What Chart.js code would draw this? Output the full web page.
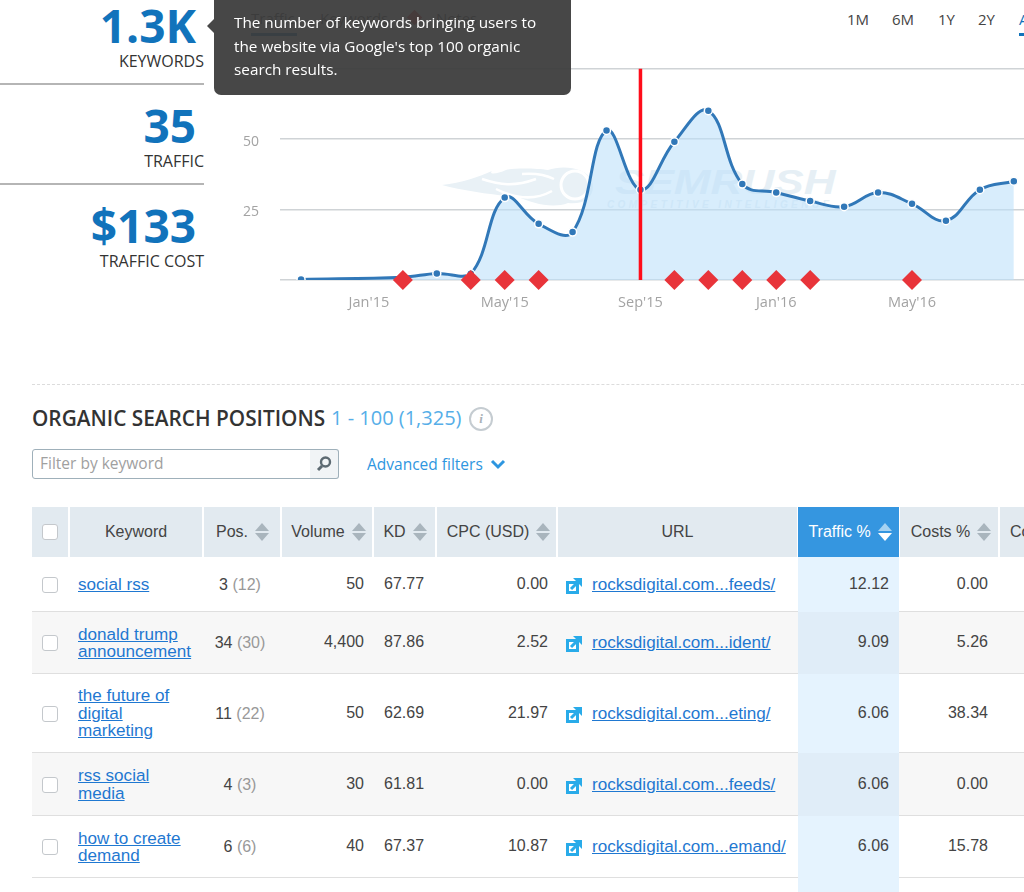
<!DOCTYPE html>
<html>
<head>
<meta charset="utf-8">
<script src="https://cdn.jsdelivr.net/npm/chart.js@4"></script>
<style>
  html, body { margin: 0; padding: 0; background: #fff; }
  body { width: 1024px; height: 892px; overflow: hidden; position: relative; font-family: "Open Sans", sans-serif; color: #333; }
  .abs { position: absolute; white-space: nowrap; }
  .kpi { right: 828px; text-align: right; font-weight: 700; color: #1173bb; font-size: 46px; line-height: 50px; }
  .kpi-label { right: 820px; text-align: right; font-size: 16px; line-height: 18px; color: #333; }
  .hr { left: 0; width: 204px; height: 2px; background: #b5b5b5; }
  .range { top: 9px; font-size: 15px; line-height: 20px; color: #444; }
  #tip { left: 214px; top: -6px; width: 357px; height: 101px; border-radius: 7px; background: rgba(60, 60, 60, .94); z-index: 5; }
  #tip-arrow { left: 207px; top: 19px; border: 7px solid transparent; border-left: 0; border-right-color: rgba(60, 60, 60, .94); z-index: 5; }
  #tip-text { left: 234px; top: 11px; font-size: 15.3px; line-height: 23.7px; color: #fff; z-index: 6; }
  #chart-wrap { position: absolute; left: 200px; top: 39px; width: 834px; height: 291px; z-index: 2; }
  .cell { position: absolute; font-family: "Liberation Sans", sans-serif; font-size: 16px; line-height: 17.5px; white-space: nowrap; color: #444; }
  .cell a { color: #1f78d1; text-decoration: underline; font-size: 17.1px; }
  .head { top: 507px; height: 50px; box-sizing: border-box; background: #e2eaf0; font-family: "Liberation Sans", sans-serif; font-size: 16px; line-height: 50px; color: #444; white-space: nowrap; overflow: hidden; }
  .sort { display: inline-block; width: 14px; height: 18px; vertical-align: -4px; margin-left: 7px; position: relative; }
  .sort:before, .sort:after { content: ""; position: absolute; left: 0; border-left: 7px solid transparent; border-right: 7px solid transparent; }
  .sort:before { top: 0; border-bottom: 8px solid #a9b5bd; }
  .sort:after { bottom: 0; border-top: 8px solid #a9b5bd; }
  .sort.on:before { border-bottom-color: #a5d2f2; }
  .sort.on:after { border-top-color: #fff; }
  .check { position: absolute; left: 42px; width: 14px; height: 14px; border: 1px solid #c4c8cc; border-radius: 3px; background: #fff; }
</style>
</head>
<body>
  <div class="abs kpi" style="top:0px">1.3K</div>
  <div class="abs kpi-label" style="top:52px">KEYWORDS</div>
  <div class="abs hr" style="top:83px"></div>
  <div class="abs kpi" style="top:100px">35</div>
  <div class="abs kpi-label" style="top:152px">TRAFFIC</div>
  <div class="abs hr" style="top:183px"></div>
  <div class="abs kpi" style="top:200px">$133</div>
  <div class="abs kpi-label" style="top:252px">TRAFFIC COST</div>

  <div class="abs" style="left:251px;top:8px;font-size:15px;color:#444">Traffic</div>
  <div class="abs" style="left:320px;top:8px;font-size:15px;color:#444">Keywords</div>
  <div class="abs" style="left:436px;top:8px;font-size:15px;color:#444">Notes</div>
  <div class="abs" style="left:251px;top:33px;width:46px;height:3px;background:#1173bb"></div>
  <div class="abs" style="left:409px;top:12px;width:11px;height:11px;background:#e8343a;transform:rotate(45deg)"></div>
  <div class="abs" id="tip"></div>
  <div class="abs" id="tip-arrow"></div>
  <div class="abs" id="tip-text">The number of keywords bringing users to<br>the website via Google's top 100 organic<br>search results.</div>

  <div class="abs range" style="left:847px">1M</div>
  <div class="abs range" style="left:892px">6M</div>
  <div class="abs range" style="left:938px">1Y</div>
  <div class="abs range" style="left:978px">2Y</div>
  <div class="abs range" style="left:1019px;color:#1173bb">All</div>
  <div class="abs" style="left:1019px;top:33px;width:5px;height:3px;background:#1173bb"></div>

  <svg class="abs" style="left:440px;top:165px" width="170" height="50" viewBox="0 0 170 50">
    <path d="M2 20 C22 18 38 12 52 6 C48 10 58 9 66 5 C72 3 96 3 108 5 C122 0 146 2 152 16 C156 30 146 40 128 38 C112 44 92 38 78 32 C54 30 24 26 2 20 Z" fill="#e9f1f6"/>
    <path d="M42 14 C60 20 74 22 96 14 M56 24 C76 34 94 36 112 26 M82 9 C96 8 106 10 114 14" fill="none" stroke="#fff" stroke-width="2.5"/>
    <circle cx="135" cy="20" r="14" fill="#e9f1f6" stroke="#fff" stroke-width="3"/>
  </svg>
  <div class="abs" style="left:615px;top:162px;font:italic 700 35px/40px 'Liberation Sans',sans-serif;color:#e6eff5;transform:scaleX(1.26);transform-origin:left">SEMRUSH</div>
  <div class="abs" style="left:607px;top:199px;font:italic 700 10px/12px 'Liberation Sans',sans-serif;letter-spacing:3.4px;color:#e6eff5">COMPETITIVE INTELLIGENCE</div>

  <div id="chart-wrap"><canvas id="traffic-chart"></canvas></div>

  <div class="abs" style="left:32px;right:0;top:384px;border-top:1px dashed #dcdcdc"></div>
  <div class="abs" style="left:32px;top:404px;font-size:20.8px;line-height:28px;font-weight:600;color:#333">ORGANIC SEARCH POSITIONS</div>
  <div class="abs" style="left:331px;top:404px;font-size:20px;line-height:28px;color:#55aee8">1 - 100 (1,325)</div>
  <div class="abs" style="left:469px;top:407px;width:20px;height:20px;border:2px solid #c5ccd1;border-radius:50%;text-align:center;font:italic 700 13px/20px 'Liberation Serif',serif;color:#aab2b8">i</div>

  <div class="abs" style="left:32px;top:449px;width:277px;height:28px;border:1px solid #9fb0ba;border-radius:3px 0 0 3px;font-size:15.5px;line-height:26px;color:#a0a0a0;text-indent:7px">Filter by keyword</div>
  <div class="abs" style="left:310px;top:449px;width:28px;height:28px;border:1px solid #9fb0ba;border-left:0;border-radius:0 3px 3px 0;background:#f1f4f6;box-sizing:content-box"></div>
  <svg class="abs" style="left:316px;top:455px" width="17" height="17" viewBox="0 0 17 17"><circle cx="9.5" cy="7" r="4.5" fill="none" stroke="#5d6a72" stroke-width="2.4"/><path d="M6 11 L2 15" stroke="#5d6a72" stroke-width="3"/></svg>
  <div class="abs" style="left:367px;top:453px;font-size:15.5px;line-height:22px;color:#2e96e0">Advanced filters</div>
  <svg class="abs" style="left:490px;top:459px" width="16" height="11" viewBox="0 0 16 11"><path d="M2 2 L8 8 L14 2" fill="none" stroke="#2e96e0" stroke-width="3"/></svg>

  <div id="table"></div>

<script>
// monthly organic traffic; index 0 is Nov'14, Dec'14 and Jan'15 have no reading
const traffic = [
  { m: 0, v: 0.2 }, { m: 3, v: 1 }, { m: 4, v: 2.3 }, { m: 5, v: 2.2 },
  { m: 6, v: 29.2 }, { m: 7, v: 19.9 }, { m: 8, v: 17 }, { m: 9, v: 53 },
  { m: 10, v: 32 }, { m: 11, v: 49 }, { m: 12, v: 60 }, { m: 13, v: 34 },
  { m: 14, v: 31 }, { m: 15, v: 28 }, { m: 16, v: 26 }, { m: 17, v: 31 },
  { m: 18, v: 27 }, { m: 19, v: 21 }, { m: 20, v: 32 }, { m: 21, v: 35 },
];
const notes = [3, 5, 6, 7, 11, 12, 13, 14, 15, 18];
const marker = 10;
const monthLabels = { 2: "Jan'15", 6: "May'15", 10: "Sep'15", 14: "Jan'16", 18: "May'16" };

new Chart(document.getElementById('traffic-chart'), {
  type: 'line',
  data: {
    datasets: [
      {
        data: notes.map((m) => ({ x: m, y: 0 })),
        showLine: false,
        pointStyle: 'rectRot',
        pointRadius: 10,
        pointBackgroundColor: '#e8343a',
        pointBorderWidth: 0,
        clip: false,
        order: 0,
      },
      {
        data: [{ x: marker, y: 0 }, { x: marker, y: 75 }],
        borderColor: '#ff0d1a',
        borderWidth: 3.5,
        pointRadius: 0,
        order: 1,
      },
      {
        data: traffic.map((d) => ({ x: d.m, y: d.v })),
        borderColor: '#3178b8',
        borderWidth: 3,
        backgroundColor: 'rgba(187, 224, 250, 0.58)',
        fill: 'origin',
        tension: 0.4,
        pointRadius: 4,
        pointBackgroundColor: '#3178b8',
        pointBorderColor: '#fff',
        pointBorderWidth: 1.5,
        order: 2,
      },
    ],
  },
  options: {
    responsive: true,
    maintainAspectRatio: false,
    animation: false,
    layout: { padding: { top: 9 } },
    plugins: { legend: { display: false }, tooltip: { enabled: false } },
    scales: {
      x: {
        type: 'linear',
        min: -0.62,
        max: 21.3,
        grid: { display: false },
        border: { display: false },
        afterBuildTicks: (scale) => {
          scale.ticks = Object.keys(monthLabels).map((m) => ({ value: Number(m) }));
        },
        afterFit: (scale) => { scale.height = 50; },
        ticks: {
          autoSkip: false,
          maxRotation: 0,
          padding: 6,
          color: '#a3a3a3',
          font: { family: 'Open Sans', size: 14.5 },
          callback: (value) => monthLabels[value] || '',
        },
      },
      y: {
        min: 0,
        max: 75,
        grid: { color: '#cfd3d6', lineWidth: 1.5, drawTicks: false },
        border: { display: false },
        afterFit: (scale) => { scale.width = 80; },
        ticks: {
          stepSize: 25,
          padding: 21,
          labelOffset: 3,
          color: '#a3a3a3',
          font: { family: 'Open Sans', size: 14 },
          callback: (value) => (value === 0 ? '' : value),
        },
      },
    },
  },
});

const columns = [
  { x: 32, w: 36, title: '' },
  { x: 70, w: 132, title: 'Keyword', center: true },
  { x: 204, w: 76, title: 'Pos.', sort: true, shift: 1 },
  { x: 282, w: 90, title: 'Volume', sort: true, shift: 3 },
  { x: 374, w: 61, title: 'KD', sort: true, shift: 1 },
  { x: 437, w: 119, title: 'CPC (USD)', sort: true, shift: 4 },
  { x: 558, w: 239, title: 'URL', center: true },
  { x: 798, w: 101, title: 'Traffic %', sort: true, active: true, shift: 3 },
  { x: 900, w: 98, title: 'Costs %', sort: true, shift: 4 },
  { x: 1000, w: 40, title: 'Com.' },
];
const rows = [
  { top: 557, h: 55, kw: ['social rss'], pos: 3, prev: 12, vol: '50', kd: '67.77', cpc: '0.00', url: 'rocksdigital.com...feeds/', tr: '12.12', cost: '0.00' },
  { top: 612, h: 62, kw: ['donald trump', 'announcement'], pos: 34, prev: 30, vol: '4,400', kd: '87.86', cpc: '2.52', url: 'rocksdigital.com...ident/', tr: '9.09', cost: '5.26' },
  { top: 674, h: 79, kw: ['the future of', 'digital', 'marketing'], pos: 11, prev: 22, vol: '50', kd: '62.69', cpc: '21.97', url: 'rocksdigital.com...eting/', tr: '6.06', cost: '38.34' },
  { top: 753, h: 63, kw: ['rss social', 'media'], pos: 4, prev: 3, vol: '30', kd: '61.81', cpc: '0.00', url: 'rocksdigital.com...feeds/', tr: '6.06', cost: '0.00' },
  { top: 816, h: 62, kw: ['how to create', 'demand'], pos: 6, prev: 6, vol: '40', kd: '67.37', cpc: '10.87', url: 'rocksdigital.com...emand/', tr: '6.06', cost: '15.78' },
];

let html = '';
columns.forEach((c) => {
  const style = `left:${c.x}px;width:${c.w}px;` +
    (c.shift ? `padding-left:${c.shift}px;` : '') +
    (c.active ? 'background:#3596e0;color:#fff;' : '') +
    (c.center || c.sort ? 'text-align:center;' : 'text-indent:10px;');
  const sort = c.sort ? `<span class="sort${c.active ? ' on' : ''}"></span>` : '';
  html += `<div class="abs head" style="${style}">${c.title}${sort}</div>`;
});
html += '<div class="check" style="top:524px"></div>';

rows.forEach((r, i) => {
  const mid = r.top + r.h / 2;
  const even = i % 2 === 1;
  html += `<div class="abs" style="left:32px;right:0;top:${r.top}px;height:${r.h - 1}px;background:${even ? '#f7f7f7' : '#fff'};border-bottom:1px solid #dfdfdf"></div>`;
  html += `<div class="abs" style="left:798px;width:101px;top:${r.top}px;height:${r.h}px;background:${even ? '#e0edf8' : '#e5f3fe'}"></div>`;
  html += `<div class="check" style="top:${mid - 8}px"></div>`;
  html += `<div class="cell" style="left:78px;top:${mid - r.kw.length * 8.75}px">${r.kw.map((k) => `<a>${k}</a>`).join('<br>')}</div>`;
  html += `<div class="cell" style="left:202px;width:76px;text-align:center;top:${mid - 9}px">${r.pos} <span style="color:#999">(${r.prev})</span></div>`;
  html += `<div class="cell" style="right:660px;top:${mid - 10}px">${r.vol}</div>`;
  html += `<div class="cell" style="left:384px;top:${mid - 10}px">${r.kd}</div>`;
  html += `<div class="cell" style="right:476px;top:${mid - 10}px">${r.cpc}</div>`;
  html += `<svg class="abs" style="left:566px;top:${mid - 7}px" width="16" height="16" viewBox="0 0 16 16"><rect x="0" y="3" width="13" height="13" fill="#29abe9"/><rect x="3" y="6" width="7" height="7" fill="#fff"/><path d="M7 0 H16 V9 Z" fill="#29abe9"/><path d="M5 11 L11 5" stroke="#29abe9" stroke-width="3"/></svg>`;
  html += `<div class="cell" style="left:592px;top:${mid - 9}px"><a>${r.url}</a></div>`;
  html += `<div class="cell" style="right:135px;top:${mid - 10}px">${r.tr}</div>`;
  html += `<div class="cell" style="right:36px;top:${mid - 10}px">${r.cost}</div>`;
});
html += '<div class="abs" style="left:798px;width:101px;top:878px;height:14px;background:#e5f3fe"></div>';
document.getElementById('table').innerHTML = html;
</script>
</body>
</html>
